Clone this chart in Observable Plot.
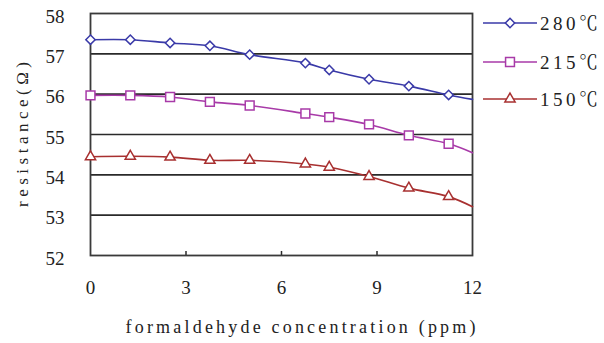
<!DOCTYPE html>
<html>
<head>
<meta charset="utf-8">
<script src="https://cdn.jsdelivr.net/npm/d3@7"></script>
<script src="https://cdn.jsdelivr.net/npm/@observablehq/plot@0.6"></script>
<style>
  html, body { margin: 0; padding: 0; background: #fff; }
  #wrap { position: relative; width: 604px; height: 343px; overflow: hidden; background: #fff; }
  #legend { position: absolute; left: 0; top: 0; }
</style>
</head>
<body>
<div id="wrap"></div>
<script>
// Data
const concentration = [0, 1.25, 2.5, 3.75, 5, 6.75, 7.5, 8.75, 10, 11.25, 12];
const r280 = [57.35, 57.35, 57.27, 57.2, 56.98, 56.77, 56.6, 56.37, 56.2, 55.98, 55.87];
const r215 = [55.97, 55.97, 55.93, 55.81, 55.72, 55.52, 55.43, 55.25, 54.98, 54.77, 54.55];
const r150 = [54.45, 54.46, 54.44, 54.36, 54.36, 54.27, 54.19, 53.96, 53.67, 53.46, 53.21];
const markerCount = 10; // last point is the line end without a marker
const seriesNames = ["280℃", "215℃", "150℃"];
const seriesValues = [r280, r215, r150];
const seriesColors = ["#3a3aa8", "#a83aa8", "#a83030"];
const seriesSymbols = ["diamond2", "square", "triangle"];
const seriesR = [4.2, 5, 3.8];
const yTicks = [52, 53, 54, 55, 56, 57, 58];
const gridValues = [53, 54, 55, 56, 57];
const xTicks = [0, 3, 6, 9, 12];
const xMinorTicks = [3, 6, 9];
const xTitle = "formaldehyde concentration (ppm)";
const yTitle = "resistance(Ω)";

const rows = [];
seriesNames.forEach((name, si) => {
  concentration.forEach((c, i) => rows.push({series: name, x: c, y: seriesValues[si][i], marker: i < markerCount}));
});

const font = "'Liberation Serif', 'Times New Roman', serif";
const marks = [
  Plot.ruleY(gridValues, {stroke: "#2a2a2a", strokeWidth: 1.6}),
  Plot.ruleX(xMinorTicks, {y1: 52, y2: 52.1, stroke: "#2a2a2a", strokeWidth: 1.5}),
  Plot.frame({stroke: "#3a3a3a", strokeWidth: 1.8}),
  Plot.axisY({ticks: yTicks, tickFormat: "d", tickSize: 0, tickPadding: 26, fontSize: 19, dy: 3, label: null}),
  Plot.axisX({ticks: xTicks, tickFormat: "d", tickSize: 0, tickPadding: 25, fontSize: 19, label: null}),
  Plot.text([xTitle], {frameAnchor: "bottom", dx: 19, dy: 72, fontSize: 18, lineAnchor: "middle", textAnchor: "middle", fill: "#222"}),
  Plot.text([yTitle], {frameAnchor: "left", dx: -68, rotate: -90, fontSize: 17, lineAnchor: "middle", textAnchor: "middle", fill: "#222"})
];
seriesNames.forEach((name, si) => {
  const data = rows.filter(d => d.series === name);
  marks.push(Plot.line(data, {x: "x", y: "y", stroke: seriesColors[si], strokeWidth: 1.6, curve: "catmull-rom", clip: false}));
  marks.push(Plot.dot(data.filter(d => d.marker), {x: "x", y: "y", symbol: () => seriesSymbols[si], r: seriesR[si], fill: "white", stroke: seriesColors[si], strokeWidth: 1.5}));
});

const chart = Plot.plot({
  width: 604,
  height: 343,
  marginLeft: 90,
  marginRight: 132,
  marginTop: 13,
  marginBottom: 88,
  x: {domain: [0, 12]},
  y: {domain: [52, 58]},
  symbol: {type: "identity"},
  style: {fontFamily: font, fontSize: "17px", color: "#222", background: "white", overflow: "visible"},
  marks
});
document.getElementById("wrap").appendChild(chart);
d3.select(chart).attr("font-family", font).selectAll("text").attr("font-family", font).style("font-family", font);

// stretch axis titles like the reference's wide lettering
function stretch(text, target) {
  d3.select(chart).selectAll("text").filter(function() { return this.textContent === text; })
    .attr("textLength", target).attr("lengthAdjust", "spacing");
}
stretch(xTitle, 350);
stretch(yTitle, 145);

// legend (right of the plot area)
const legend = d3.select("#wrap").append("svg")
  .attr("id", "legend").attr("width", 604).attr("height", 343)
  .style("pointer-events", "none");
const legendY = [23, 62, 99];
seriesNames.forEach((name, si) => {
  const g = legend.append("g").attr("transform", `translate(0,${legendY[si]})`);
  g.append("line").attr("x1", 483).attr("x2", 537).attr("y1", 0).attr("y2", 0)
    .attr("stroke", seriesColors[si]).attr("stroke-width", 1.6);
  const area = Math.PI * seriesR[si] * seriesR[si];
  const sym = {diamond2: d3.symbolDiamond2, square: d3.symbolSquare, triangle: d3.symbolTriangle}[seriesSymbols[si]];
  g.append("path").attr("transform", "translate(510,0)").attr("d", d3.symbol(sym, area)())
    .attr("fill", "white").attr("stroke", seriesColors[si]).attr("stroke-width", 1.5);
  g.append("text").attr("x", 540).attr("y", 0).attr("dy", "0.35em")
    .attr("font-family", "'Liberation Serif', 'Noto Serif CJK SC', serif")
    .attr("font-size", 19).attr("fill", "#222")
    .attr("textLength", 58).attr("lengthAdjust", "spacing").text(name);
});
</script>
</body>
</html>
